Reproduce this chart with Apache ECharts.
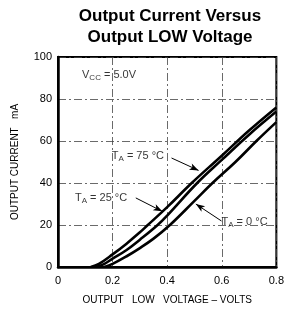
<!DOCTYPE html>
<html><head><meta charset="utf-8">
<script src="https://cdn.jsdelivr.net/npm/echarts@6/dist/echarts.min.js"></script>
<style>html,body{margin:0;padding:0;background:#fff}#c{width:287px;height:313px}</style>
</head><body><div id="c"></div>
<script>
const xTicks = [0, 0.2, 0.4, 0.6, 0.8];
const yTicks = [0, 20, 40, 60, 80, 100];
const curve75 = [[0.12,0],[0.15,1.5],[0.2,6],[0.25,11],[0.3,16.5],[0.325,19.5],[0.4,28.5],[0.49,40],[0.6,53],[0.7,65],[0.8,76]];
const curve25 = [[0.14,0],[0.17,1.5],[0.2,4],[0.25,8],[0.3,13],[0.365,20],[0.4,24.5],[0.51,40],[0.6,51],[0.7,63],[0.8,74]];
const curve0  = [[0.17,0],[0.2,1.5],[0.25,5],[0.3,9],[0.35,13.5],[0.41,20],[0.5,31.5],[0.566,40],[0.65,50],[0.727,60],[0.8,69]];
const labels = [
  {text:'{n|V}{s|CC}{n| = 5.0V}', at:[0.088,91.4]},
  {text:'{n|T}{s|A}{n| = 75 °C}', at:[0.197,52.9]},
  {text:'{n|T}{s|A}{n| = 25 °C}', at:[0.062,32.9]},
  {text:'{n|T}{s|A}{n| = 0 °C}', at:[0.599,21.4]}
];
const arrows = [
  [[0.416,51.9],[0.515,46]],
  [[0.285,32.9],[0.382,26.5]],
  [[0.599,21.9],[0.505,30]]
];
const chart = echarts.init(document.getElementById('c'), null, {renderer:'canvas'});
const font = '"Liberation Sans", Arial, sans-serif';
const lineSeries = (d) => ({type:'line', data:d, smooth:0.4, showSymbol:false, lineStyle:{color:'#000', width:2.6}, silent:true});
chart.setOption({
  animation:false,
  title:{text:'Output Current Versus\nOutput LOW Voltage', left:165, top:1, textAlign:'center',
    textStyle:{fontFamily:font, fontWeight:'bold', fontSize:17, lineHeight:21, color:'#000'}},
  grid:{left:58, right:10, top:57, bottom:46, show:true, borderColor:'#000', borderWidth:2, backgroundColor:'transparent'},
  xAxis:{type:'value', min:0, max:0.8, interval:0.2,
    name:'OUTPUT   LOW   VOLTAGE – VOLTS', nameLocation:'middle', nameGap:28,
    nameTextStyle:{fontFamily:font, fontSize:10, color:'#000'},
    axisLine:{show:true, lineStyle:{color:'#000', width:2.5}}, axisTick:{show:false},
    axisLabel:{fontFamily:font, fontSize:11, color:'#000', margin:8, formatter:v=>String(v)},
    splitLine:{show:true, lineStyle:{color:'#444', width:0.8, type:[8,3,2,3]}}},
  yAxis:{type:'value', min:0, max:100, interval:20,
    name:'OUTPUT CURRENT   mA', nameLocation:'middle', nameGap:38, nameRotate:90,
    nameTextStyle:{fontFamily:font, fontSize:10, color:'#000'},
    axisLine:{show:true, lineStyle:{color:'#000', width:2.5}}, axisTick:{show:false},
    axisLabel:{fontFamily:font, fontSize:11, color:'#000', margin:6},
    splitLine:{show:true, lineStyle:{color:'#444', width:0.8, type:[8,3,2,3]}}},
  series:[
    lineSeries(curve75), lineSeries(curve25), lineSeries(curve0),
    {type:'scatter', symbolSize:0, silent:true,
      data:labels.map(l=>({value:l.at, label:{show:true, position:'right', distance:0, formatter:l.text,
        rich:{n:{fontFamily:font, fontSize:11, color:'#000'}, s:{fontFamily:font, fontSize:8, color:'#000', verticalAlign:'bottom', padding:[6,0,0,0]}}}})),
      markLine:{silent:true, symbol:['none','arrow'], symbolSize:[5,9], label:{show:false},
        lineStyle:{color:'#000', width:1, type:'solid'},
        data:arrows.map(a=>[{coord:a[0]},{coord:a[1]}])}}
  ]
});
</script></body></html>
